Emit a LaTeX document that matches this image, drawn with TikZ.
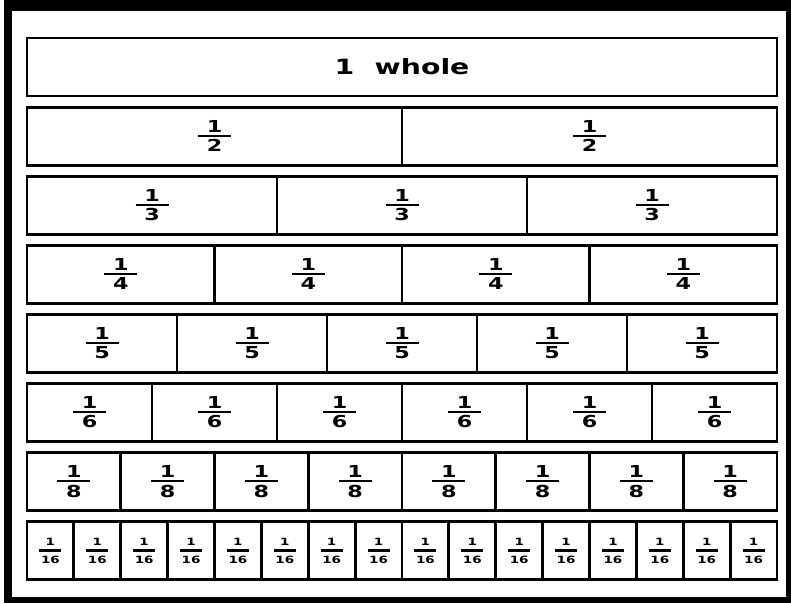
\documentclass[tikz,border=0pt]{standalone}
\usepackage{fontspec}
\setmainfont{DejaVu Sans}[FakeStretch=1.35]
\newcommand{\unitfr}[3]{\vbox{\offinterlineskip\halign{\hfil##\hfil\cr 1\cr\noalign{\kern#2}\rule{#1}{2.2pt}\cr\noalign{\kern#2}#3\cr}}}

\begin{document}
\begin{tikzpicture}[x=1pt, y=-1pt,
    cell/.style={draw, line width=2.8pt, minimum height=58pt, inner sep=0pt, font=\fontsize{16.5}{18}\selectfont\bfseries}]
  \fill[white] (0,0) rectangle (791,603);
  \fill[black] (4,0) rectangle (791,603);
  \fill[white] (12,11) rectangle (786,597);
  % the whole strip
  \node[cell, minimum width=750pt, font=\fontsize{21}{24}\selectfont\bfseries] (w1) at (402,67) {1\hspace{0.5em} whole};
  % rows of unit fractions
  \foreach \r/\n in {1/2, 2/3, 3/4, 4/5, 5/6, 6/8}{
    \pgfmathsetmacro\w{750/\n}
    \foreach \k in {1,...,\n}
      \node[cell, minimum width=\w pt] (f\n-\k) at ({27+(\k-0.5)*\w}, {67+69.1*\r}) {\unitfr{33pt}{2.3pt}{\n}};
  }
  % sixteenths
  \foreach \k in {1,...,16}
    \node[cell, minimum width=46.875pt, font=\fontsize{10}{12}\selectfont\bfseries] (f16-\k) at ({27+(\k-0.5)*46.875}, 550.7) {\unitfr{22pt}{4pt}{16}};
\end{tikzpicture}
\end{document}
